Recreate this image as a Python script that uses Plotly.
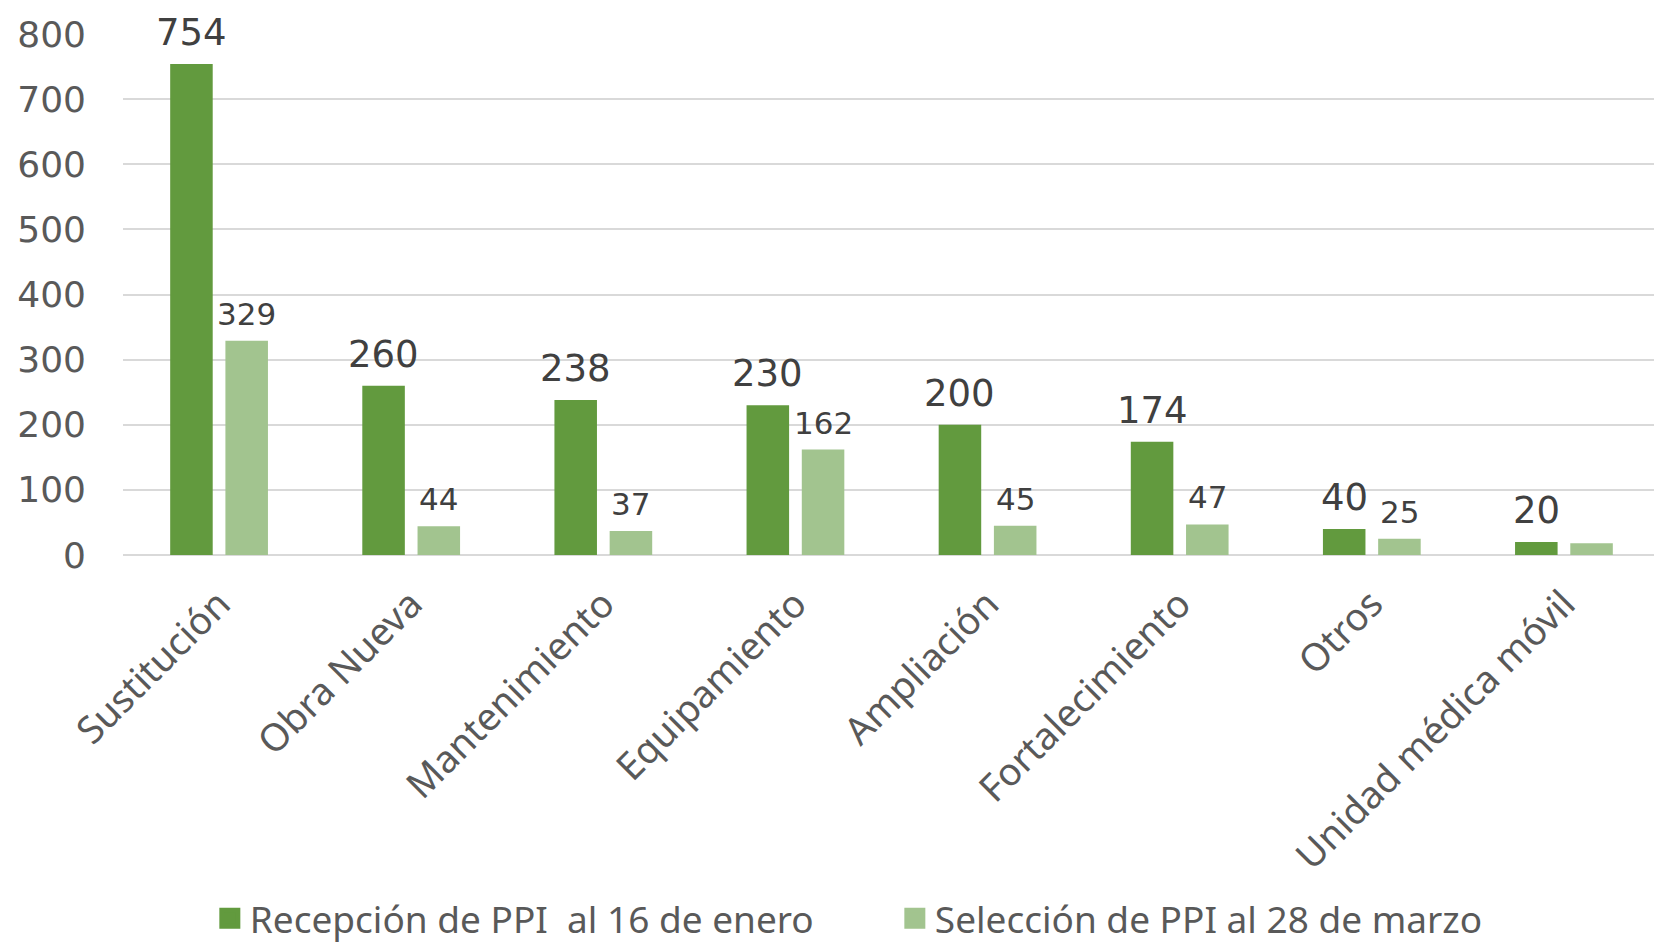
import plotly.graph_objects as go

categories = ["Sustitución", "Obra Nueva", "Mantenimiento", "Equipamiento",
              "Ampliación", "Fortalecimiento", "Otros", "Unidad médica móvil"]
recepcion = [754, 260, 238, 230, 200, 174, 40, 20]
seleccion = [329, 44, 37, 162, 45, 47, 25, 18]
seleccion_labels = ["329", "44", "37", "162", "45", "47", "25", ""]
series_names = ["Recepción de PPI  al 16 de enero", "Selección de PPI al 28 de marzo"]
colors = ["#629A3E", "#A2C48F"]
y_ticks = [0, 100, 200, 300, 400, 500, 600, 700, 800]

NUMFONT = "DejaVu Sans"
CATFONT = "Noto Sans"
W, H = 1662, 944
ML, MR, MT, MB = 115, 10, 26, 397
BARGAP, GROUPGAP = 0.425, 0.23

fig = go.Figure()
fig.add_trace(go.Bar(
    x=categories, y=recepcion, name=series_names[0], showlegend=False,
    marker=dict(color=colors[0], line=dict(width=0)),
))
fig.add_trace(go.Bar(
    x=categories, y=seleccion, name=series_names[1], showlegend=False,
    marker=dict(color=colors[1], line=dict(width=0)),
))
# legend entries with larger square swatches
for name, col in zip(series_names, colors):
    fig.add_trace(go.Scatter(
        x=[None], y=[None], mode="markers", name=name,
        marker=dict(symbol="square", size=16, color=col, line=dict(color=col, width=5)),
    ))

# data labels placed above each bar
cat_px = (W - ML - MR) / len(categories)
slot_px = cat_px * (1 - BARGAP) / 2
for cat, v in zip(categories, recepcion):
    fig.add_annotation(x=cat, y=v, text=str(v), showarrow=False, yanchor="bottom",
                       xshift=-slot_px / 2, yshift=8,
                       font=dict(size=37, color="#404040", family=NUMFONT))
for cat, v, lab in zip(categories, seleccion, seleccion_labels):
    if lab:
        fig.add_annotation(x=cat, y=v, text=lab, showarrow=False, yanchor="bottom",
                           xshift=slot_px / 2, yshift=7,
                           font=dict(size=31, color="#404040", family=NUMFONT))

fig.update_layout(
    width=W, height=H,
    paper_bgcolor="white", plot_bgcolor="white",
    barmode="group", bargap=BARGAP, bargroupgap=GROUPGAP,
    margin=dict(l=ML, r=MR, t=MT, b=MB, autoexpand=False),
    font=dict(family=CATFONT, color="#595959"),
    legend=dict(orientation="h", xanchor="left", x=0.0565, yanchor="middle", y=-0.698,
                font=dict(size=37, color="#595959", family="Noto Sans"),
                itemwidth=30, entrywidth=640, entrywidthmode="pixels",
                traceorder="normal", bgcolor="rgba(0,0,0,0)"),
    showlegend=True,
)
fig.update_yaxes(range=[0, 800], tickvals=y_ticks, showgrid=True, gridcolor="#D9D9D9",
                 gridwidth=2, zeroline=True, zerolinecolor="#D9D9D9", zerolinewidth=2,
                 tickfont=dict(size=36, color="#595959", family=NUMFONT),
                 ticklabelstandoff=36, showline=False, automargin=False)
fig.update_xaxes(tickangle=-45, tickfont=dict(size=38, color="#595959", family=CATFONT),
                 showline=False, ticks="", ticklabelstandoff=18, automargin=False)
fig.write_html("out.html")
